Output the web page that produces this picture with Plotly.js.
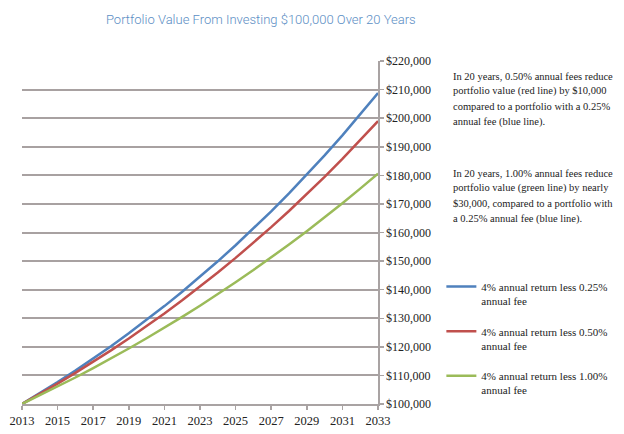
<!DOCTYPE html>
<html>
<head>
<meta charset="utf-8">
<script src="https://cdn.plot.ly/plotly-3.0.1.min.js"></script>
<style>html,body{margin:0;padding:0;background:#fff;}#chart{width:624px;height:434px;}</style>
</head>
<body>
<div id="chart"></div>
<script>
var years = [2013,2014,2015,2016,2017,2018,2019,2020,2021,2022,2023,2024,2025,2026,2027,2028,2029,2030,2031,2032,2033];
var fee025 = [100000,103750,107640,111680,115870,120210,124720,129400,134250,139280,144500,149920,155540,161370,167420,173700,180210,186970,193980,201260,208810];
var fee050 = [100000,103500,107120,110870,114750,118770,122930,127230,131680,136290,141060,146000,151110,156390,161870,167530,173390,179460,185740,192240,198980];
var fee100 = [100000,103000,106090,109270,112550,115930,119410,122990,126680,130480,134390,138420,142580,146850,151260,155800,160470,165280,170240,175350,180610];
var seriesNames = ["4% annual return less 0.25%<br>annual fee","4% annual return less 0.50%<br>annual fee","4% annual return less 1.00%<br>annual fee"];
var titleText = "Portfolio Value From Investing $100,000 Over 20 Years";
var note1Lines = ["In 20 years, 0.50% annual fees reduce","portfolio value (red line) by $10,000","compared to a portfolio with a 0.25%","annual fee (blue line)."];
var note2Lines = ["In 20 years, 1.00% annual fees reduce","portfolio value (green line) by nearly","$30,000, compared to a portfolio with","a 0.25% annual fee (blue line)."];

var colors = ["#4f81bd","#c0504d","#9bbb59"];
var vals = [fee025, fee050, fee100];
var traces = vals.map(function(v,i){
  return {x: years, y: v, type:"scatter", mode:"lines", name: seriesNames[i],
          legendgroup: "g"+i, line:{color:colors[i], width:2.5}};
});
var serif = "Liberation Serif";
var noteFont = {family:serif, size:10.5, color:"#222"};
var annotations = [];
function addPara(lines, topPx){
  lines.forEach(function(t, k){
    var py = topPx + k*15.2;
    annotations.push({text:t, xref:"paper", yref:"paper", x:1.205, y:(404-py)/343,
      xanchor:"left", yanchor:"middle", align:"left", showarrow:false, font:noteFont});
  });
}
addPara(note1Lines, 76);
addPara(note2Lines, 173);

var layout = {
  width:624, height:434,
  font:{family:serif, size:11, color:"#222"},
  margin:{l:22, r:246, t:61, b:30, autoexpand:false},
  paper_bgcolor:"#fff", plot_bgcolor:"#fff",
  title:{text:titleText, font:{family:"Roboto", size:13, weight:300, color:"#5b8ec4"},
         x:0.418, xref:"container", xanchor:"center", y:0.956, yref:"container", yanchor:"middle"},
  xaxis:{range:[2013,2033], tick0:2013, dtick:2, showgrid:false, zeroline:false,
         showline:true, linecolor:"#a9a3a3", linewidth:2, ticks:"outside", ticklen:4, tickcolor:"#a9a3a3", tickwidth:1.5,
         tickfont:{family:serif, size:12.5, color:"#222"}},
  yaxis:{range:[100000,220000], dtick:10000, side:"right", tickprefix:"$", tickformat:",d",
         showgrid:true, gridcolor:"#a8a1a1", gridwidth:2, zeroline:false,
         showline:true, linecolor:"#a9a3a3", linewidth:1.5, ticks:"outside", ticklen:4, tickcolor:"#a9a3a3", tickwidth:1.5,
         tickfont:{family:serif, size:12, color:"#222"}},
  showlegend:true,
  legend:{x:1.178, xanchor:"left", y:0.382, yanchor:"top", valign:"top", tracegroupgap:13,
          font:{family:serif, size:11, color:"#222"}, bgcolor:"rgba(0,0,0,0)", itemwidth:30},
  annotations:annotations
};
Plotly.newPlot("chart", traces, layout, {displayModeBar:false, staticPlot:true});
</script>
</body>
</html>
